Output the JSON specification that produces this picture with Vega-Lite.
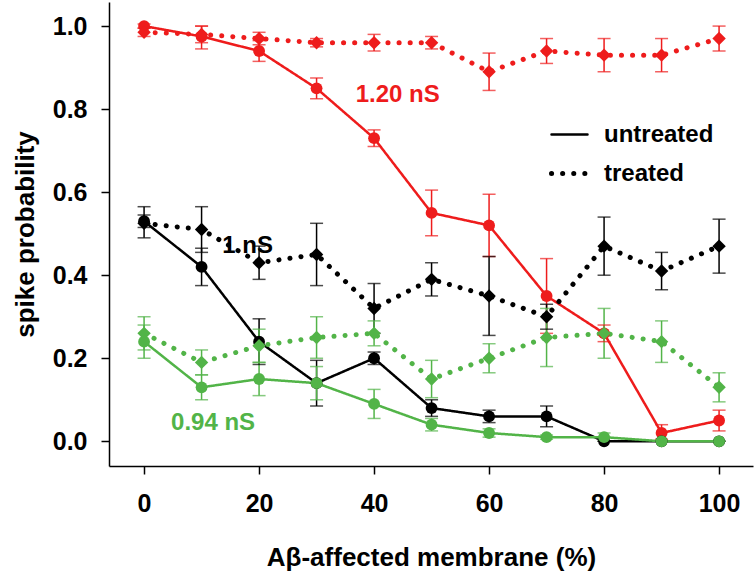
{
  "$schema": "https://vega.github.io/schema/vega-lite/v6.json",
  "width": 644,
  "height": 464,
  "autosize": {"type": "none"},
  "padding": {"left": 109, "top": 2, "right": 3, "bottom": 112},
  "background": "white",
  "config": {
    "view": {"stroke": null},
    "font": "Liberation Sans",
    "axis": {"labelFont": "Liberation Sans", "titleFont": "Liberation Sans", "labelFontWeight": "bold", "titleFontWeight": "bold", "labelFontSize": 25, "titleFontSize": 26, "labelColor": "black", "titleColor": "black", "domainColor": "black", "tickColor": "black", "domainWidth": 1.5, "tickWidth": 1.5, "tickSize": 8, "grid": false},
    "legend": {"labelFont": "Liberation Sans", "labelFontWeight": "bold", "labelFontSize": 24, "labelColor": "black"}
  },
  "datasets": {
    "main": [
      {"g":"red","t":"untreated","x":0,"y":1.00,"lo":0.995,"hi":1.005},
      {"g":"red","t":"untreated","x":10,"y":0.975,"lo":0.945,"hi":1.0},
      {"g":"red","t":"untreated","x":20,"y":0.94,"lo":0.915,"hi":0.965},
      {"g":"red","t":"untreated","x":30,"y":0.85,"lo":0.825,"hi":0.875},
      {"g":"red","t":"untreated","x":40,"y":0.73,"lo":0.71,"hi":0.75},
      {"g":"red","t":"untreated","x":50,"y":0.55,"lo":0.495,"hi":0.605},
      {"g":"red","t":"untreated","x":60,"y":0.52,"lo":0.445,"hi":0.595},
      {"g":"red","t":"untreated","x":70,"y":0.35,"lo":0.26,"hi":0.44},
      {"g":"red","t":"untreated","x":80,"y":0.26,"lo":0.24,"hi":0.28},
      {"g":"red","t":"untreated","x":90,"y":0.02,"lo":0.005,"hi":0.04},
      {"g":"red","t":"untreated","x":100,"y":0.05,"lo":0.025,"hi":0.075},
      {"g":"red","t":"treated","x":0,"y":0.985,"lo":0.975,"hi":0.995},
      {"g":"red","t":"treated","x":10,"y":0.98,"lo":0.96,"hi":1.0},
      {"g":"red","t":"treated","x":20,"y":0.97,"lo":0.955,"hi":0.985},
      {"g":"red","t":"treated","x":30,"y":0.96,"lo":0.95,"hi":0.97},
      {"g":"red","t":"treated","x":40,"y":0.96,"lo":0.94,"hi":0.98},
      {"g":"red","t":"treated","x":50,"y":0.96,"lo":0.945,"hi":0.975},
      {"g":"red","t":"treated","x":60,"y":0.89,"lo":0.845,"hi":0.935},
      {"g":"red","t":"treated","x":70,"y":0.94,"lo":0.91,"hi":0.97},
      {"g":"red","t":"treated","x":80,"y":0.93,"lo":0.89,"hi":0.97},
      {"g":"red","t":"treated","x":90,"y":0.93,"lo":0.89,"hi":0.97},
      {"g":"red","t":"treated","x":100,"y":0.97,"lo":0.94,"hi":1.0},
      {"g":"black","t":"untreated","x":0,"y":0.53,"lo":0.515,"hi":0.545},
      {"g":"black","t":"untreated","x":10,"y":0.42,"lo":0.375,"hi":0.465},
      {"g":"black","t":"untreated","x":20,"y":0.24,"lo":0.185,"hi":0.295},
      {"g":"black","t":"untreated","x":30,"y":0.14,"lo":0.085,"hi":0.195},
      {"g":"black","t":"untreated","x":40,"y":0.20,"lo":0.185,"hi":0.215},
      {"g":"black","t":"untreated","x":50,"y":0.08,"lo":0.06,"hi":0.10},
      {"g":"black","t":"untreated","x":60,"y":0.06,"lo":0.045,"hi":0.075},
      {"g":"black","t":"untreated","x":70,"y":0.06,"lo":0.035,"hi":0.085},
      {"g":"black","t":"untreated","x":80,"y":0.0,"lo":0.0,"hi":0.0},
      {"g":"black","t":"untreated","x":90,"y":0.0,"lo":0.0,"hi":0.0},
      {"g":"black","t":"untreated","x":100,"y":0.0,"lo":0.0,"hi":0.0},
      {"g":"black","t":"treated","x":0,"y":0.525,"lo":0.49,"hi":0.565},
      {"g":"black","t":"treated","x":10,"y":0.51,"lo":0.455,"hi":0.565},
      {"g":"black","t":"treated","x":20,"y":0.43,"lo":0.39,"hi":0.47},
      {"g":"black","t":"treated","x":30,"y":0.45,"lo":0.375,"hi":0.525},
      {"g":"black","t":"treated","x":40,"y":0.32,"lo":0.26,"hi":0.38},
      {"g":"black","t":"treated","x":50,"y":0.39,"lo":0.35,"hi":0.43},
      {"g":"black","t":"treated","x":60,"y":0.35,"lo":0.255,"hi":0.445},
      {"g":"black","t":"treated","x":70,"y":0.30,"lo":0.27,"hi":0.33},
      {"g":"black","t":"treated","x":80,"y":0.47,"lo":0.40,"hi":0.54},
      {"g":"black","t":"treated","x":90,"y":0.41,"lo":0.365,"hi":0.455},
      {"g":"black","t":"treated","x":100,"y":0.47,"lo":0.405,"hi":0.535},
      {"g":"green","t":"untreated","x":0,"y":0.24,"lo":0.20,"hi":0.28},
      {"g":"green","t":"untreated","x":10,"y":0.13,"lo":0.10,"hi":0.16},
      {"g":"green","t":"untreated","x":20,"y":0.15,"lo":0.11,"hi":0.19},
      {"g":"green","t":"untreated","x":30,"y":0.14,"lo":0.10,"hi":0.18},
      {"g":"green","t":"untreated","x":40,"y":0.09,"lo":0.055,"hi":0.125},
      {"g":"green","t":"untreated","x":50,"y":0.04,"lo":0.025,"hi":0.055},
      {"g":"green","t":"untreated","x":60,"y":0.02,"lo":0.01,"hi":0.03},
      {"g":"green","t":"untreated","x":70,"y":0.01,"lo":0.005,"hi":0.015},
      {"g":"green","t":"untreated","x":80,"y":0.01,"lo":0.0,"hi":0.02},
      {"g":"green","t":"untreated","x":90,"y":0.0,"lo":0.0,"hi":0.0},
      {"g":"green","t":"untreated","x":100,"y":0.0,"lo":0.0,"hi":0.0},
      {"g":"green","t":"treated","x":0,"y":0.26,"lo":0.22,"hi":0.30},
      {"g":"green","t":"treated","x":10,"y":0.19,"lo":0.16,"hi":0.22},
      {"g":"green","t":"treated","x":20,"y":0.23,"lo":0.19,"hi":0.27},
      {"g":"green","t":"treated","x":30,"y":0.25,"lo":0.20,"hi":0.30},
      {"g":"green","t":"treated","x":40,"y":0.26,"lo":0.23,"hi":0.29},
      {"g":"green","t":"treated","x":50,"y":0.15,"lo":0.105,"hi":0.195},
      {"g":"green","t":"treated","x":60,"y":0.20,"lo":0.165,"hi":0.235},
      {"g":"green","t":"treated","x":70,"y":0.25,"lo":0.18,"hi":0.32},
      {"g":"green","t":"treated","x":80,"y":0.26,"lo":0.20,"hi":0.32},
      {"g":"green","t":"treated","x":90,"y":0.24,"lo":0.19,"hi":0.29},
      {"g":"green","t":"treated","x":100,"y":0.13,"lo":0.095,"hi":0.165}
    ],
    "labels": [
      {"g":"red","x":44.1,"y":0.834,"label":"1.20 nS"},
      {"g":"black","x":18,"y":0.47,"label":"1 nS"},
      {"g":"green","x":12,"y":0.045,"label":"0.94 nS"}
    ]
  },
  "data": {"name": "main"},
  "encoding": {
    "x": {"field": "x", "type": "quantitative", "scale": {"domain": [-6.1, 105.9], "nice": false, "zero": false},
      "axis": {"values": [0, 20, 40, 60, 80, 100], "title": "Aβ-affected membrane (%)", "labelPadding": 17, "titlePadding": 28}},
    "color": {"field": "g", "type": "nominal", "scale": {"domain": ["red", "black", "green"], "range": ["#ee1c1c", "#000000", "#52b448"]}, "legend": null}
  },
  "layer": [
    {
      "mark": {"type": "rule", "strokeWidth": 1.5},
      "encoding": {
        "y": {"field": "lo", "type": "quantitative", "scale": {"domain": [-0.0595, 1.058], "nice": false, "zero": false},
          "axis": {"values": [0, 0.2, 0.4, 0.6, 0.8, 1.0], "format": ".1f", "title": "spike probability", "labelPadding": 14, "titlePadding": 14}},
        "y2": {"field": "hi"}
      }
    },
    {
      "mark": {"type": "tick", "orient": "horizontal", "size": 13, "thickness": 1.5},
      "encoding": {"y": {"field": "lo", "type": "quantitative"}}
    },
    {
      "mark": {"type": "tick", "orient": "horizontal", "size": 13, "thickness": 1.5},
      "encoding": {"y": {"field": "hi", "type": "quantitative"}}
    },
    {
      "mark": {"type": "line", "strokeCap": "round"},
      "encoding": {
        "y": {"field": "y", "type": "quantitative"},
        "detail": {"field": "g"},
        "strokeDash": {"field": "t", "type": "nominal", "scale": {"domain": ["untreated", "treated"], "range": [[1, 0], [0.1, 11]]},
          "legend": {"title": null, "orient": "none", "legendX": 440, "legendY": 113, "symbolType": "stroke", "symbolSize": 1296, "symbolStrokeColor": "black", "rowPadding": 6, "labelOffset": 14,
            "encode": {"symbols": {"update": {"strokeWidth": {"value": 3.5}, "strokeCap": {"value": "round"}}}}}},
        "strokeWidth": {"field": "t", "type": "nominal", "scale": {"domain": ["untreated", "treated"], "range": [2.5, 5]}, "legend": null}
      }
    },
    {
      "transform": [{"filter": "datum.t === 'untreated'"}],
      "mark": {"type": "point", "shape": "circle", "filled": true, "opacity": 1, "size": 140},
      "encoding": {"y": {"field": "y", "type": "quantitative"}}
    },
    {
      "transform": [{"filter": "datum.t === 'treated'"}],
      "mark": {"type": "point", "shape": "diamond", "filled": true, "opacity": 1, "size": 180},
      "encoding": {"y": {"field": "y", "type": "quantitative"}}
    },
    {
      "data": {"name": "labels"},
      "mark": {"type": "text", "fontSize": 24, "fontWeight": "bold", "font": "Liberation Sans"},
      "encoding": {
        "y": {"field": "y", "type": "quantitative"},
        "text": {"field": "label"}
      }
    }
  ]
}
